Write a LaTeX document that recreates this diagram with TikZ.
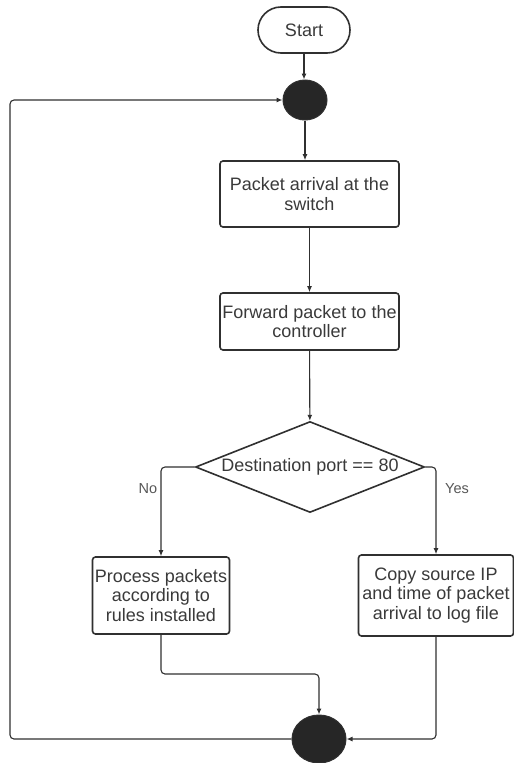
\documentclass[tikz,border=0pt]{standalone}
\usepackage{fontspec}
\setmainfont{Liberation Sans}
\usetikzlibrary{shapes.geometric,arrows.meta}
\definecolor{ink}{HTML}{303030}
\definecolor{txt}{HTML}{3A3A3A}
\definecolor{dot}{HTML}{262626}
\begin{document}
\begin{tikzpicture}[x=1pt,y=-1pt,
  every node/.style={text=txt,font=\fontsize{18}{19.5}\selectfont},
  box/.style={draw=ink,line width=1.6pt,rounded corners=3pt,align=center,inner sep=1pt},
  term/.style={draw=ink,line width=1.6pt,rounded corners=23pt,minimum width=92pt,minimum height=46pt},
  junc/.style={ellipse,draw=ink,fill=dot,line width=1pt,inner sep=0pt},
  dec/.style={diamond,draw=ink,line width=1.6pt,aspect=2.5,inner sep=0pt,minimum width=229pt,minimum height=91pt},
  conn/.style={draw=ink,line width=1.1pt,rounded corners=4pt,-{Latex[length=6pt,width=5pt]}},
  lab/.style={font=\fontsize{14.5}{16}\selectfont,text=txt!85}
]
\useasboundingbox (0,0) rectangle (514,763);
\fill[white] (0,0) rectangle (514,763);

\node[term] (start) at (304,30) {Start};
\node[junc,minimum width=44pt,minimum height=40pt] (j1) at (305,100) {};
\node[box,minimum width=179pt,minimum height=66pt] (b1) at (309.5,194) {Packet arrival at the\\switch};
\node[box,minimum width=179pt,minimum height=57pt] (b2) at (309.5,321.5) {Forward packet to the\\controller};
\node[dec] (d) at (310,467) {Destination port == 80};
\node[box,minimum width=137pt,minimum height=77pt] (b3) at (161,595.5) {Process packets\\according to\\rules installed};
\node[box,minimum width=155pt,minimum height=81pt] (b4) at (436,595.5) {Copy source IP\\and time of packet\\arrival to log file};
\node[junc,minimum width=54pt,minimum height=48pt] (j2) at (319,739) {};

\node[lab] (no) at (148,489) {No};
\node[lab] (yes) at (457,489) {Yes};

\coordinate (m3) at (161,674);
\coordinate (l1) at (10,739);
\coordinate (l2) at (10,100);

\draw[conn] (start.south) -- (start.south |- j1.north);
\draw[conn] (j1.south) -- (j1.south |- b1.north);
\draw[conn] (b1) -- (b2);
\draw[conn] (b2) -- (d);
\draw[conn] (d.west) -| (b3.north);
\draw[conn] (d.east) -| (b4.north);
\draw[conn] (b3.south) -- (m3) -| (j2.north);
\draw[conn] (b4.south) |- (j2.east);
\draw[conn] (j2.west) -- (l1) -- (l2) -- (j1.west);
\end{tikzpicture}
\end{document}
